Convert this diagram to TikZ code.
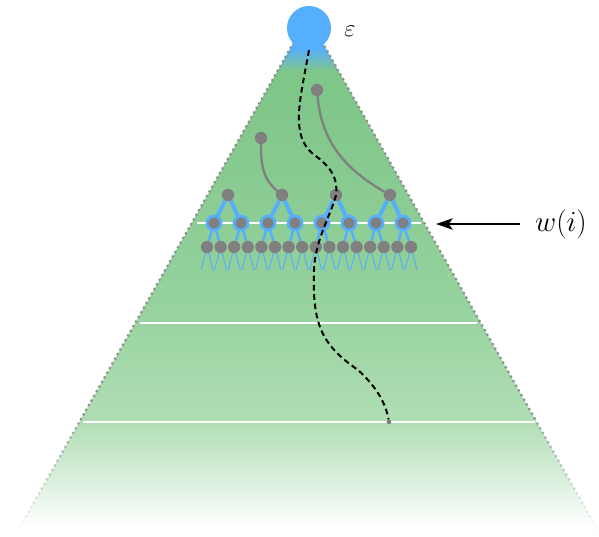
\documentclass[tikz,border=0pt]{standalone}
\usetikzlibrary{arrows.meta,positioning,calc,fadings}

\definecolor{skyblue}{RGB}{86,174,255}
\definecolor{leafgreen}{RGB}{127,198,137}
\definecolor{midgreen}{RGB}{150,210,158}
\definecolor{palegreen}{RGB}{176,222,180}
\definecolor{mistgreen}{RGB}{218,239,220}
\definecolor{nodegray}{RGB}{128,128,128}

\pgfdeclareverticalshading{coneshade}{100bp}{color(0bp)=(white); color(26bp)=(white);
  color(30.5bp)=(mistgreen); color(36bp)=(palegreen); color(47.5bp)=(midgreen);
  color(67bp)=(leafgreen); color(69.8bp)=(leafgreen); color(72bp)=(skyblue); color(100bp)=(skyblue)}
\tikzfading[name=rimfade, top color=transparent!20, bottom color=transparent!100]

\pgfdeclarelayer{back}
\pgfsetlayers{back,main}

\begin{document}
\begin{tikzpicture}[
  x=0.03cm, y=0.03cm,
  dot/.style={circle, fill=nodegray, inner sep=0pt, minimum size=0.37cm},
  ring/.style={dot, draw=skyblue, line width=0.08cm, minimum size=0.42cm},
  trunk/.style={skyblue, line width=0.12cm},
  twig/.style={skyblue, line width=0.075cm},
  fan/.style={skyblue, line width=0.03cm},
  stem/.style={nodegray, line width=0.07cm},
  rim/.style={nodegray!90, line width=0.07cm, dash pattern=on 0.06cm off 0.1cm},
  rung/.style={white, line width=0.045cm},
  walk/.style={black, line width=0.06cm, dash pattern=on 0.17cm off 0.11cm},
  pointer/.style={-{Stealth[length=0.5cm,width=0.34cm,inset=0.12cm]}, line width=0.06cm},
]
  \useasboundingbox (0,0) rectangle (599,-536);

  % cone with its three levels
  \begin{pgfonlayer}{back}
    \shade[shading=coneshade] (308,-17) -- (601,-536) -- (15,-536) -- cycle;
    \draw[rim] (80.5,-420) -- (308,-17) -- (535.5,-420);
    \draw[rim, path fading=rimfade] (15,-536) -- (80.5,-420);
    \draw[rim, path fading=rimfade] (601,-536) -- (535.5,-420);
    \draw[rung] (197,-223) -- (421,-223);
    \draw[rung] (140,-323) -- (477,-323);
    \draw[rung] (83,-422) -- (535,-422);
  \end{pgfonlayer}

  \node[circle, fill=skyblue, inner sep=0pt, minimum size=1.32cm] (root) at (309,-28) {};
  \node (eps) at (350,-31) {\fontsize{22}{26}\selectfont$\varepsilon$};

  % tree
  \foreach \i in {1,...,4} \node[dot] (a\i) at ({228+54*(\i-1)},-195) {};
  \foreach \j in {1,...,8} \node[ring] (b\j) at ({214+27*(\j-1)},-223) {};
  \foreach \k in {1,...,16} \node[dot] (c\k) at ({207+13.6*(\k-1)},-247) {};
  \node[dot] (s1) at (261,-138) {};
  \node[dot] (s2) at (317,-90) {};

  \begin{pgfonlayer}{back}
    \foreach \j in {1,...,8} {\pgfmathtruncatemacro\p{(\j+1)/2} \draw[trunk] (a\p) -- (b\j);}
    \foreach \k in {1,...,16} {\pgfmathtruncatemacro\p{(\k+1)/2} \draw[twig] (b\p) -- (c\k);}
    \foreach \k in {1,...,16} {\draw[fan] (c\k) -- ++(-6,-23); \draw[fan] (c\k) -- ++(6,-23);}
    \draw[stem] (s1) to[out=-90, in=140] (a2);
    \draw[stem] (s2) to[out=-85, in=150] (a4);
  \end{pgfonlayer}

  % sampled path
  \node[circle, fill=nodegray, inner sep=0pt, minimum size=0.14cm] (tip) at (389,-422) {};
  \draw[walk] (root.south) .. controls (300,-100) and (290,-135) .. (313,-154)
    .. controls (333,-168) and (338,-180) .. (336,-195)
    .. controls (331,-215) and (315,-240) .. (314,-270)
    .. controls (312,-325) and (322,-345) .. (358,-370)
    .. controls (378,-388) and (386,-405) .. (tip);

  \node[inner sep=0pt] (wlab) at (561,-224) {\fontsize{24}{28}\selectfont$w(i)$};
  \coordinate (edge) at (436,-224);
  \draw[pointer, shorten <=0.45cm] (wlab.west) -- (edge);
\end{tikzpicture}
\end{document}
